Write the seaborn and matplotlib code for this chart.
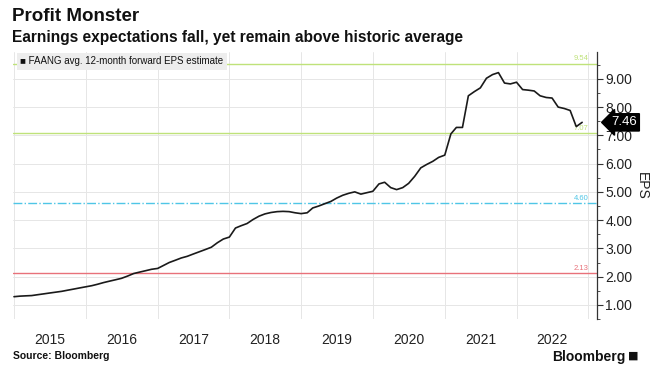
import pandas as pd
import matplotlib.pyplot as plt
import seaborn as sns

# ── Data (monthly) ─────────────────────────────────────────────────────
eps_2015 = [1.29, 1.31, 1.32, 1.33, 1.36, 1.39, 1.42, 1.45, 1.48, 1.52, 1.56, 1.60]
eps_2016 = [1.64, 1.68, 1.73, 1.79, 1.84, 1.89, 1.94, 2.02, 2.11, 2.16, 2.21, 2.26]
eps_2017 = [2.29, 2.40, 2.50, 2.58, 2.66, 2.72, 2.80, 2.88, 2.96, 3.04, 3.20, 3.33]
eps_2018 = [3.40, 3.72, 3.80, 3.88, 4.02, 4.14, 4.22, 4.27, 4.30, 4.31, 4.30, 4.26]
eps_2019 = [4.23, 4.26, 4.43, 4.50, 4.58, 4.66, 4.78, 4.88, 4.95, 5.00, 4.92, 4.97]
eps_2020 = [5.02, 5.28, 5.34, 5.15, 5.08, 5.15, 5.30, 5.55, 5.85, 5.97, 6.08, 6.22]
eps_2021 = [6.30, 7.05, 7.28, 7.28, 8.40, 8.55, 8.68, 9.02, 9.15, 9.22, 8.85, 8.82]
eps_2022 = [8.88, 8.62, 8.60, 8.57, 8.40, 8.34, 8.32, 8.00, 7.95, 7.88, 7.31, 7.46]

eps = eps_2015 + eps_2016 + eps_2017 + eps_2018 + eps_2019 + eps_2020 + eps_2021 + eps_2022
dates = pd.date_range('2015-01-01', periods=len(eps), freq='MS')

# mean and +/- 1, 2 standard deviations
ref_levels = [9.54, 7.07, 4.60, 2.13]
ref_colors = ['#bfe27a', '#bfe27a', '#4fc6e6', '#e8717a']
ref_styles = ['-', '-', '-.', '-']

years = list(range(2015, 2023))

df = pd.DataFrame({'date': dates, 'eps': eps})

# ── Figure ─────────────────────────────────────────────────────────────
sns.set_style('white')
plt.rcParams['font.family'] = ['Liberation Sans Narrow', 'Liberation Sans', 'DejaVu Sans']

fig = plt.figure(figsize=(6.57, 3.74), dpi=100)
ax = fig.add_axes([0.0198, 0.147, 0.889, 0.714])

for lvl, col, ls in zip(ref_levels, ref_colors, ref_styles):
    ax.axhline(lvl, color=col, lw=1.0, ls=ls, zorder=1)
    ax.text(0.985, lvl + 0.04, f'{lvl:.2f}', transform=ax.get_yaxis_transform(),
            color=col, fontsize=5.5, ha='right', va='bottom')

sns.lineplot(data=df, x='date', y='eps', ax=ax, color='#1a1a1a', lw=1.2, zorder=3)

ax.set_xlim(pd.Timestamp('2014-12-27'), pd.Timestamp('2023-02-15'))
ax.set_ylim(0.52, 9.95)

# y axis on the right
ax.yaxis.tick_right()
ax.yaxis.set_label_position('right')
ax.set_yticks(range(1, 10))
ax.set_yticklabels([f'{v:.2f}' for v in range(1, 10)])
ax.set_yticks([v + 0.5 for v in range(0, 10)], minor=True)
ax.tick_params(axis='y', which='major', direction='out', length=4, width=0.8,
               color='#333333', labelsize=10, pad=2, labelcolor='#222222')
ax.tick_params(axis='y', which='minor', direction='out', length=2, width=0.6, color='#333333')
ax.set_ylabel('EPS', rotation=270, labelpad=12, fontsize=10, color='#222222')

# x axis: gridlines at year boundaries, labels mid-year
ax.set_xticks([pd.Timestamp(f'{y}-01-01') for y in years + [2023]])
ax.set_xticklabels([])
ax.set_xticks([pd.Timestamp(f'{y}-07-02') for y in years], minor=True)
ax.set_xticklabels([str(y) for y in years], minor=True)
ax.tick_params(axis='x', which='both', length=0, labelsize=10, pad=10, labelcolor='#222222')
ax.set_xlabel('')

ax.grid(True, which='major', color='#e6e6e6', lw=0.7)
ax.set_axisbelow(True)

for side in ['left', 'top', 'bottom']:
    ax.spines[side].set_visible(False)
ax.spines['right'].set_color('#333333')
ax.spines['right'].set_linewidth(0.9)

# last value tag
ax.annotate(f'{eps[-1]:.2f}', xy=(1.0, eps[-1]), xycoords=ax.get_yaxis_transform(),
            xytext=(10, 0), textcoords='offset points', ha='left', va='center',
            color='white', fontsize=9.5,
            bbox=dict(boxstyle='larrow,pad=0.2', fc='black', ec='black'))

# legend box
ax.text(0.012, 0.965, '\u25a0 FAANG avg. 12-month forward EPS estimate', transform=ax.transAxes,
        fontsize=7, ha='left', va='center', color='#111111',
        bbox=dict(boxstyle='square,pad=0.35', fc='#ededed', ec='none'))

# titles and footer
fig.text(0.018, 0.945, 'Profit Monster', fontsize=13.5, fontweight='bold', color='#111111')
fig.text(0.018, 0.888, 'Earnings expectations fall, yet remain above historic average',
         fontsize=11.2, fontweight='bold', color='#111111')
fig.text(0.02, 0.04, 'Source: Bloomberg', fontsize=7.5, fontweight='bold', color='#111111')
fig.text(0.952, 0.035, 'Bloomberg', fontsize=10, fontweight='bold', color='#111111', ha='right')
fig.text(0.972, 0.04, '\u25a0', fontsize=8, color='#111111', ha='right',
         family='DejaVu Sans')

plt.savefig('out.png', dpi=100)
